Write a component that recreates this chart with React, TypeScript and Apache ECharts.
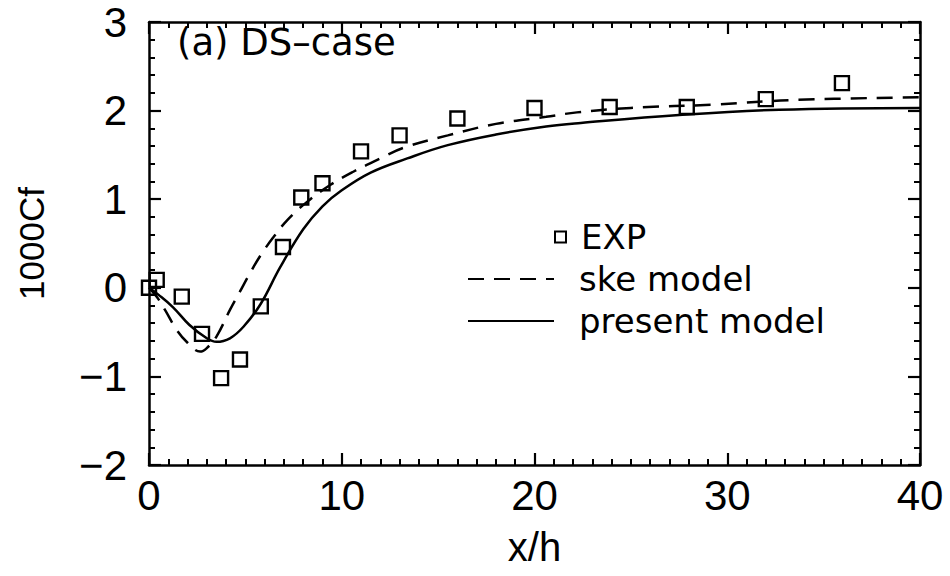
import React, { useEffect, useRef } from "react";
import * as echarts from "echarts";

const expX = [0, 0.4, 1.7, 2.75, 3.74, 4.72, 5.8, 6.95, 7.9, 9.0, 11.0, 13.0, 16.0, 20.0, 23.9, 27.9, 32.0, 35.95];
const expY = [0, 0.09, -0.1, -0.52, -1.02, -0.81, -0.21, 0.46, 1.02, 1.18, 1.54, 1.72, 1.91, 2.03, 2.04, 2.04, 2.13, 2.31];

const skeX = [0, 0.4, 0.83, 1.45, 2.0, 2.65, 3.0, 3.5, 4.2, 4.7, 5.25, 5.8, 6.45, 7.2, 8.2, 9.4, 10.6, 12.0, 13.2, 15.5, 18, 20.6, 22.2, 25, 29.5, 33.4, 40];
const skeY = [0, -0.1, -0.25, -0.48, -0.62, -0.72, -0.68, -0.55, -0.25, -0.05, 0.17, 0.37, 0.57, 0.77, 0.97, 1.16, 1.31, 1.46, 1.58, 1.72, 1.85, 1.93, 1.98, 2.03, 2.07, 2.12, 2.15];

const presentX = [0, 0.5, 1.25, 2.1, 3.0, 3.5, 4.2, 4.9, 5.8, 6.8, 8.0, 9.0, 10.0, 11.5, 13.4, 15.5, 18, 20.6, 22.4, 27.5, 32.7, 40];
const presentY = [0, -0.08, -0.22, -0.42, -0.57, -0.61, -0.57, -0.44, -0.18, 0.23, 0.66, 0.92, 1.1, 1.3, 1.46, 1.61, 1.73, 1.82, 1.86, 1.95, 2.01, 2.03];

const seriesNames = ["EXP", "ske model", "present model"];
const annotation = "(a) DS\u2013case";
const xName = "x/h";
const yName = "1000Cf";

const zip = (xs: number[], ys: number[]) => xs.map((x, i) => [x, ys[i]]);

const TICK_FONT = "'Liberation Sans', Arial, sans-serif";
const TEXT_FONT = "'DejaVu Sans', sans-serif";

export default function App() {
  const ref = useRef<HTMLDivElement>(null);
  useEffect(() => {
    if (!ref.current) return;
    const chart = echarts.init(ref.current, undefined, { renderer: "svg" });
    const axisLine = { onZero: false, lineStyle: { color: "#000", width: 2.5 } };
    const tick = { inside: true, length: 12, lineStyle: { color: "#000", width: 2.2 } };
    const minorX = { show: true, splitNumber: 10, length: 6, lineStyle: { color: "#000", width: 2 } };
    const minorY = { show: true, splitNumber: 5, length: 6, lineStyle: { color: "#000", width: 2 } };
    const fmt = (v: number) => String(v).replace("-", "\u2212");
    chart.setOption({
      animation: false,
      backgroundColor: "#fff",
      grid: { left: 149, right: 30, top: 22, bottom: 111 },
      xAxis: [
        {
          type: "value", min: 0, max: 40, interval: 10, position: "bottom",
          axisLine, axisTick: tick, minorTick: minorX, splitLine: { show: false },
          axisLabel: { color: "#000", fontSize: 42, fontFamily: TICK_FONT, margin: 9 },
          name: xName, nameLocation: "middle", nameGap: 62,
          nameTextStyle: { color: "#000", fontSize: 40, fontFamily: TICK_FONT },
        },
        {
          type: "value", min: 0, max: 40, interval: 10, position: "top",
          axisLine, axisTick: tick, minorTick: minorX, splitLine: { show: false },
          axisLabel: { show: false },
        },
      ],
      yAxis: [
        {
          type: "value", min: -2, max: 3, interval: 1, position: "left",
          axisLine, axisTick: tick, minorTick: minorY, splitLine: { show: false },
          axisLabel: { color: "#000", fontSize: 42, fontFamily: TICK_FONT, margin: 22, formatter: fmt },
          name: yName, nameLocation: "middle", nameGap: 100,
          nameTextStyle: { color: "#000", fontSize: 35, fontFamily: TICK_FONT },
        },
        {
          type: "value", min: -2, max: 3, interval: 1, position: "right",
          axisLine, axisTick: tick, minorTick: minorY, splitLine: { show: false },
          axisLabel: { show: false },
        },
      ],
      legend: [
        {
          data: [seriesNames[0]], left: 549, top: 215, orient: "vertical",
          itemWidth: 11, itemHeight: 11,
          itemStyle: { borderWidth: 2, borderColor: "#000", color: "rgba(255,255,255,0)" },
          textStyle: { color: "#000", fontSize: 34, fontFamily: TEXT_FONT, lineHeight: 34, padding: [0, 0, 0, 10] },
        },
        {
          data: [seriesNames[1], seriesNames[2]], left: 462, top: 257, orient: "vertical",
          itemWidth: 86, itemHeight: 14, itemGap: 8,
          itemStyle: { opacity: 0 },
          textStyle: { color: "#000", fontSize: 34, fontFamily: TEXT_FONT, lineHeight: 34, padding: [0, 0, 0, 20] },
        },
      ],
      graphic: [
        {
          type: "text", left: 177, top: 24,
          style: { text: annotation, fill: "#000", fontSize: 37, fontFamily: TEXT_FONT },
        },
      ],
      series: [
        {
          name: seriesNames[0], type: "scatter", data: zip(expX, expY),
          symbol: "rect", symbolSize: 14, z: 5,
          itemStyle: { color: "rgba(255,255,255,0)", borderColor: "#000", borderWidth: 2.4, opacity: 1 },
        },
        {
          name: seriesNames[1], type: "line", data: zip(skeX, skeY),
          smooth: 0.4, symbol: "none", showSymbol: false,
          lineStyle: { color: "#000", width: 2.5, type: [16, 10] },
          itemStyle: { color: "#000" },
        },
        {
          name: seriesNames[2], type: "line", data: zip(presentX, presentY),
          smooth: 0.4, symbol: "none", showSymbol: false,
          lineStyle: { color: "#000", width: 2.5 },
          itemStyle: { color: "#000" },
        },
      ],
    });
    return () => chart.dispose();
  }, []);
  return (
    <div
      ref={ref}
      style={{ position: "fixed", left: 0, top: 0, width: 950, height: 576, background: "#fff" }}
    />
  );
}
